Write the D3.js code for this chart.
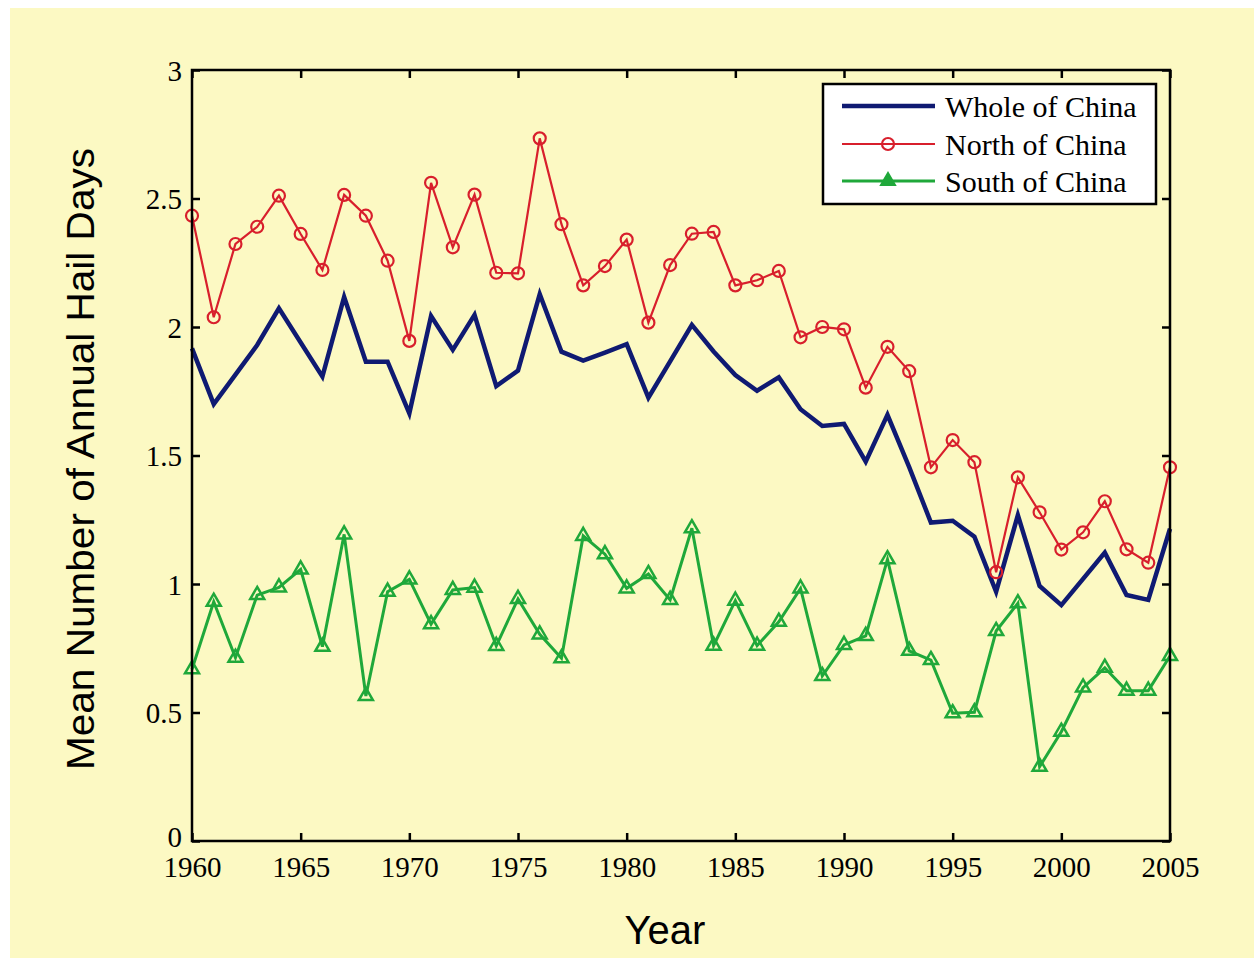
<!DOCTYPE html>
<html><head><meta charset="utf-8">
<script src="https://cdn.jsdelivr.net/npm/d3@7"></script>
<style>body{margin:0;background:#fff;overflow:hidden}</style>
</head><body><svg id="c" width="1254" height="958"></svg>
<script>
const years = [1960,1961,1962,1963,1964,1965,1966,1967,1968,1969,1970,1971,1972,1973,1974,1975,1976,1977,1978,1979,1980,1981,1982,1983,1984,1985,1986,1987,1988,1989,1990,1991,1992,1993,1994,1995,1996,1997,1998,1999,2000,2001,2002,2003,2004,2005];
const whole = [1.917,1.700,1.815,1.930,2.073,1.940,1.807,2.117,1.865,1.865,1.664,2.043,1.911,2.047,1.770,1.830,2.128,1.904,1.869,1.900,1.933,1.725,1.866,2.008,1.905,1.813,1.752,1.804,1.680,1.615,1.623,1.476,1.658,1.455,1.239,1.246,1.184,0.970,1.268,0.992,0.918,1.020,1.122,0.957,0.938,1.215];
const north = [2.433,2.038,2.323,2.390,2.511,2.362,2.222,2.514,2.433,2.258,1.946,2.561,2.310,2.515,2.211,2.209,2.734,2.400,2.162,2.237,2.340,2.017,2.241,2.363,2.370,2.162,2.182,2.218,1.960,2.000,1.991,1.764,1.923,1.828,1.454,1.560,1.474,1.046,1.415,1.279,1.134,1.201,1.322,1.135,1.083,1.454];
const south = [0.668,0.931,0.713,0.957,0.987,1.057,0.756,1.193,0.564,0.970,1.018,0.844,0.977,0.986,0.759,0.942,0.804,0.711,1.187,1.116,0.983,1.039,0.938,1.217,0.760,0.935,0.760,0.853,0.983,0.642,0.763,0.798,1.096,0.740,0.704,0.497,0.501,0.817,0.925,0.289,0.425,0.597,0.674,0.585,0.585,0.720];
const xTicks = [1960,1965,1970,1975,1980,1985,1990,1995,2000,2005];
const yTicks = [0,0.5,1,1.5,2,2.5,3];
const yTickLabels = ["0","0.5","1","1.5","2","2.5","3"];
const seriesNames = ["Whole of China","North of China","South of China"];

const svg = d3.select("#c");
svg.append("rect").attr("x",10).attr("y",8).attr("width",1244).attr("height",950).attr("fill","#fcf9c3");

const L=192, T=70, R=1170, B=841;
const x = d3.scaleLinear().domain([1960,2005]).range([L,R]);
const y = d3.scaleLinear().domain([0,3]).range([B,T]);

const serif = "'Liberation Serif','Times New Roman',serif";
const sans = "'Liberation Sans',Arial,sans-serif";

const tickLen = 8;
const gB = svg.append("g").attr("transform",`translate(0,${B})`)
  .call(d3.axisBottom(x).tickValues(xTicks).tickFormat(d3.format("d")).tickSizeInner(-tickLen).tickSizeOuter(0).tickPadding(15));
const gT = svg.append("g").attr("transform",`translate(0,${T})`)
  .call(d3.axisTop(x).tickValues(xTicks).tickFormat("").tickSizeInner(-tickLen).tickSizeOuter(0));
const gL = svg.append("g").attr("transform",`translate(${L},0)`)
  .call(d3.axisLeft(y).tickValues(yTicks).tickFormat((d,i)=>yTickLabels[i]).tickSizeInner(-tickLen).tickSizeOuter(0).tickPadding(10));
const gR = svg.append("g").attr("transform",`translate(${R},0)`)
  .call(d3.axisRight(y).tickValues(yTicks).tickFormat("").tickSizeInner(-tickLen).tickSizeOuter(0));
[gB,gT,gL,gR].forEach(g=>{
  g.select(".domain").remove();
  g.selectAll(".tick line").attr("stroke","#000").attr("stroke-width",2.5);
  g.selectAll("text").attr("font-family",serif).attr("font-size",29).attr("fill","#000");
});
gL.selectAll("text").attr("dy",(d)=> d===0 ? "0.2em" : "0.35em");
gB.selectAll("text").attr("dy","0.71em");

const line = d3.line().x((d,i)=>x(years[i])).y(d=>y(d));

// Green
svg.append("path").datum(south).attr("d",line).attr("fill","none").attr("stroke","#1fa83a").attr("stroke-width",3);
const tri = d3.symbol().type(d3.symbolTriangle).size(85);
svg.append("g").selectAll("path").data(south).join("path")
  .attr("d",tri).attr("transform",(d,i)=>`translate(${x(years[i])},${y(d)})`)
  .attr("fill","none").attr("stroke","#1fa83a").attr("stroke-width",2.5);

// Blue
svg.append("path").datum(whole).attr("d",line).attr("fill","none").attr("stroke","#0f1a72").attr("stroke-width",4.5);

// Red
svg.append("path").datum(north).attr("d",line).attr("fill","none").attr("stroke","#d81f2c").attr("stroke-width",2.2);
svg.append("g").selectAll("circle").data(north).join("circle")
  .attr("cx",(d,i)=>x(years[i])).attr("cy",d=>y(d)).attr("r",6)
  .attr("fill","none").attr("stroke","#d81f2c").attr("stroke-width",2.2);

// frame
svg.append("rect").attr("x",L).attr("y",T).attr("width",R-L).attr("height",B-T)
  .attr("fill","none").attr("stroke","#000").attr("stroke-width",2.5);

// legend
const lg = svg.append("g");
lg.append("rect").attr("x",823).attr("y",84).attr("width",333).attr("height",120)
  .attr("fill","#fff").attr("stroke","#000").attr("stroke-width",2.5);
const rowsY = [106,144,181];
const colors = ["#0f1a72","#d81f2c","#1fa83a"];
const widths = [4.5,2.2,3];
seriesNames.forEach((n,i)=>{
  lg.append("line").attr("x1",842).attr("x2",935).attr("y1",rowsY[i]).attr("y2",rowsY[i])
    .attr("stroke",colors[i]).attr("stroke-width",widths[i]);
  if(i===1) lg.append("circle").attr("cx",888).attr("cy",rowsY[i]).attr("r",6).attr("fill","none").attr("stroke",colors[i]).attr("stroke-width",2.2);
  if(i===2) lg.append("path").attr("d",tri).attr("transform",`translate(888,${rowsY[i]})`).attr("fill",colors[i]).attr("stroke",colors[i]).attr("stroke-width",2);
  lg.append("text").attr("x",945).attr("y",rowsY[i]).attr("dy","0.35em").text(n)
    .attr("font-family",serif).attr("font-size",30).attr("fill","#000");
});

// axis titles
svg.append("text").attr("x",665).attr("y",944).attr("text-anchor","middle")
  .attr("font-family",sans).attr("font-size",40).attr("fill","#000").text("Year");
svg.append("text").attr("transform",`translate(94,459) rotate(-90)`).attr("text-anchor","middle")
  .attr("font-family",sans).attr("font-size",38).attr("textLength",622).attr("lengthAdjust","spacingAndGlyphs")
  .attr("fill","#000").text("Mean Number of Annual Hail Days");
</script></body></html>
